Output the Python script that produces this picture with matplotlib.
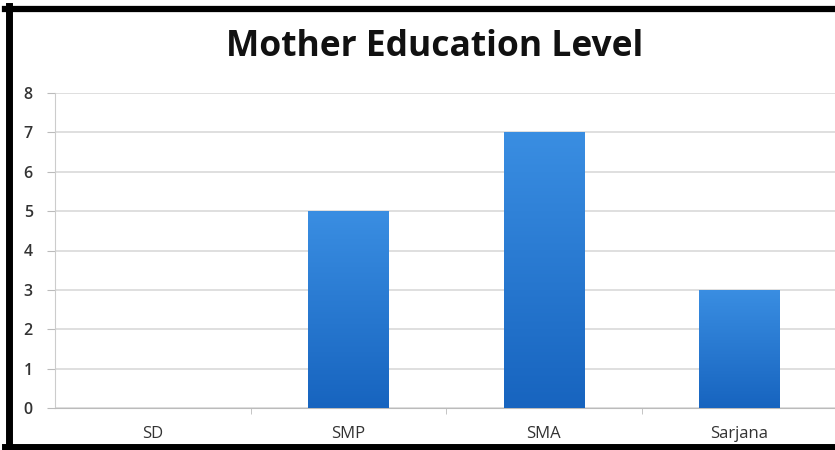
import matplotlib
matplotlib.use("Agg")
import matplotlib.pyplot as plt
import numpy as np
from matplotlib.lines import Line2D
from matplotlib.colors import LinearSegmentedColormap

categories = ["SD", "SMP", "SMA", "Sarjana"]
counts = [0, 5, 7, 3]
yticks = [0, 1, 2, 3, 4, 5, 6, 7, 8]

plt.rcParams['font.family'] = ['Open Sans', 'DejaVu Sans']

fig = plt.figure(figsize=(8.35, 4.5), dpi=100)
ax = fig.add_axes([55/835, 1 - 408/450, 782/835, 315/450])

x = np.arange(len(categories))
bars = ax.bar(x, counts, width=0.41, color="#2a7ad6", zorder=2)

# vertical gradient inside each bar
cmap = LinearSegmentedColormap.from_list("bar", ["#1764bf", "#3a8ee2"])
grad = np.linspace(0, 1, 256).reshape(-1, 1)
for b in bars:
    if b.get_height() <= 0:
        continue
    x0, w, h = b.get_x(), b.get_width(), b.get_height()
    im = ax.imshow(grad, cmap=cmap, origin="lower", aspect="auto",
                   extent=[x0, x0 + w, 0, h], zorder=3)
    im.set_clip_path(b)

ax.set_xlim(-0.5, len(categories) - 0.5)
ax.set_ylim(0, 8)
ax.set_yticks(yticks)
ax.set_xticks(x)
ax.set_xticklabels(categories, fontsize=12, color="#333333")
ax.tick_params(axis="y", labelsize=11.5, colors="#333333", length=6, color="#bbbbbb", pad=10)
for lbl in ax.get_yticklabels():
    lbl.set_fontweight("semibold")
ax.tick_params(axis="x", length=0, pad=13)
ax.set_xticks(np.arange(len(categories) - 1) + 0.5, minor=True)
ax.tick_params(axis="x", which="minor", length=4, color="#bbbbbb")
ax.yaxis.grid(True, color="#d9d9d9", linewidth=1.2, zorder=0)
ax.set_axisbelow(True)
for s in ["top", "right"]:
    ax.spines[s].set_visible(False)
ax.spines["left"].set_color("#cccccc")
ax.spines["bottom"].set_color("#bbbbbb")

fig.text(435/835, 1 - 47/450, "Mother Education Level", ha="center", va="center",
         fontsize=25.5, fontweight="bold", color="#111111")

# black frame on left, top and bottom
fig.add_artist(Line2D([8.5/835, 8.5/835], [0, 1 - 6/450], color="black", lw=5, transform=fig.transFigure))
fig.add_artist(Line2D([5/835, 1], [1 - 8.5/450, 1 - 8.5/450], color="black", lw=4.5, transform=fig.transFigure))
fig.add_artist(Line2D([5/835, 1], [3/450, 3/450], color="black", lw=5, transform=fig.transFigure))

fig.savefig("out.png", dpi=100)
